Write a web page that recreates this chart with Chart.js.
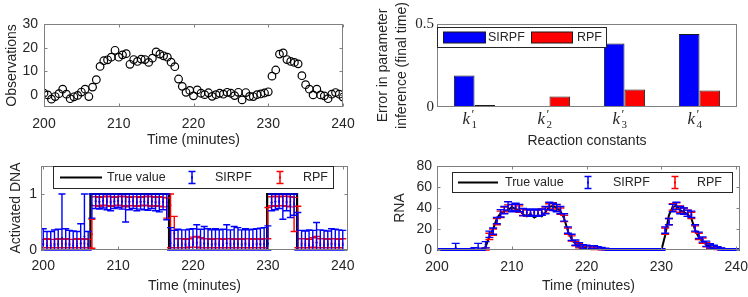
<!DOCTYPE html>
<html>
<head>
<meta charset="utf-8">
<script src="https://cdn.jsdelivr.net/npm/chart.js@4"></script>
<style>
html, body { margin: 0; padding: 0; background: #fff; }
body { width: 748px; height: 297px; position: relative; overflow: hidden; }
canvas { position: absolute; }
</style>
</head>
<body>
<canvas id="obsChart" width="374" height="150" style="left:0;top:0"></canvas>
<canvas id="errChart" width="374" height="150" style="left:374px;top:0"></canvas>
<canvas id="dnaChart" width="374" height="147" style="left:0;top:150px"></canvas>
<canvas id="rnaChart" width="374" height="147" style="left:374px;top:150px"></canvas>
<script>
// ---- data ----
const times = Array.from({length: 81}, (_, i) => 200 + i * 0.5);   // sampling grid, 0.5 min
const timeTicks = [200, 210, 220, 230, 240];

const observations = [
  0.8, 0.1, -1.7, -0.6, 0.6, 2.5, 0.4, -1.5, -0.7, -0.1,
  1.3, 2.5, -0.6, 3.4, 6.5, 12.1, 14.5, 14.9, 16, 18.9,
  16, 17, 17.5, 13, 15, 14.2, 15.2, 15, 13.8, 15.6,
  18.2, 17.3, 16.6, 16, 13.9, 12, 6.8, 3.7, 1.2, 2,
  -0.3, 2.2, 0.8, 0.2, 1.0, -0.5, 0.2, 0.8, 0.4, 1.2,
  0.8, -0.2, 1.2, -2, 1.1, -0.5, -0.6, 0.2, 0.5, 0.9,
  1.4, 8, 10.6, 17.3, 17.8, 15, 14.2, 13.8, 13.2, 8.2,
  4.4, 2.5, 0.1, 2.5, 0.1, -0.3, -1.5, 0.4, 1.1, 0.4,
  -0.8
];
const obsTicks = [0, 10, 20, 30];

// k'_1 .. k'_4 : base letter, subscript
const constants = [['k', '1'], ['k', '2'], ['k', '3'], ['k', '4']];
const sirpfParamError = [0.19, 0.004, 0.383, 0.44];
const rpfParamError = [0.012, 0.063, 0.105, 0.10];
const errTicks = [0, 0.5];

// activated DNA: true switching times and levels
const dnaTrueTimes = [200, 206.3, 206.3, 216.8, 216.8, 229.9, 229.9, 233.9, 233.9, 240];
const dnaTrueLevels = [0, 0, 1, 1, 0, 0, 1, 1, 0, 0];
const dnaTicks = [0, 1];

const dnaSirpfMean = [
  0.10, 0.08, 0.08, 0.09, 0.10, 0.22, 0.10, 0.09, 0.08, 0.08, 0.12, 0.24, 0.10,
  0.80, 0.87, 0.86, 0.88, 0.86, 0.85, 0.87, 0.88, 0.86, 0.78, 0.86, 0.87, 0.85, 0.86, 0.86, 0.85, 0.87, 0.85, 0.84, 0.86, 0.78,
  0.12, 0.09, 0.09, 0.09, 0.09, 0.09, 0.10, 0.12, 0.09, 0.11, 0.10, 0.09, 0.10, 0.09, 0.09, 0.12, 0.09, 0.11, 0.10, 0.09, 0.10, 0.09, 0.09, 0.10, 0.10, 0.10, 0.11,
  0.85, 0.86, 0.87, 0.78, 0.85, 0.80, 0.82,
  0.20, 0.09, 0.09, 0.09, 0.09, 0.13, 0.09, 0.09, 0.09, 0.10, 0.10, 0.09, 0.09
];
const dnaSirpfLow = [
  0, 0, 0, 0, 0, 0, 0, 0, 0, 0, 0, 0, 0,
  0.57, 0.74, 0.73, 0.75, 0.72, 0.70, 0.74, 0.76, 0.73, 0.50, 0.72, 0.74, 0.70, 0.73, 0.72, 0.71, 0.74, 0.70, 0.68, 0.72, 0.54,
  0, 0, 0, 0, 0, 0, 0, 0, 0, 0, 0, 0, 0, 0, 0, 0, 0, 0, 0, 0, 0, 0, 0, 0, 0, 0, 0,
  0.70, 0.72, 0.74, 0.55, 0.70, 0.58, 0.62,
  0, 0, 0, 0, 0, 0, 0, 0, 0, 0, 0, 0, 0
];
const dnaSirpfHigh = [
  0.38, 0.33, 0.33, 0.36, 0.37, 1.0, 0.38, 0.35, 0.34, 0.33, 0.47, 1.0, 0.33,
  1, 1, 1, 1, 1, 1, 1, 1, 1, 1, 1, 1, 1, 1, 1, 1, 1, 1, 1, 1, 1,
  0.40, 0.35, 0.37, 0.36, 0.36, 0.37, 0.38, 0.45, 0.37, 0.42, 0.38, 0.36, 0.38, 0.36, 0.37, 0.45, 0.36, 0.42, 0.40, 0.36, 0.38, 0.36, 0.37, 0.38, 0.39, 0.40, 0.43,
  1, 1, 1, 1, 1, 1, 1,
  0.67, 0.35, 0.34, 0.36, 0.35, 0.49, 0.36, 0.35, 0.34, 0.38, 0.37, 0.36, 0.35
];
const dnaRpfMean = [
  0.11, 0.12, 0.11, 0.11, 0.12, 0.11, 0.12, 0.11, 0.11, 0.12, 0.11, 0.12, 0.11,
  0.28, 0.87, 0.86, 0.87, 0.88, 0.87, 0.86, 0.87, 0.88, 0.87, 0.86, 0.87, 0.87, 0.86, 0.87, 0.88, 0.87, 0.86, 0.87, 0.86, 0.85,
  0.80, 0.30, 0.12, 0.12, 0.11, 0.12, 0.14, 0.14, 0.13, 0.12, 0.12, 0.11, 0.12, 0.12, 0.11, 0.12, 0.12, 0.11, 0.12, 0.11, 0.12, 0.12, 0.11, 0.12, 0.11, 0.12, 0.12,
  0.85, 0.87, 0.86, 0.87, 0.87, 0.86, 0.85,
  0.55, 0.12, 0.12, 0.11, 0.13, 0.14, 0.12, 0.12, 0.11, 0.12, 0.12, 0.11, 0.12
];
const dnaRpfLow = [
  0.04, 0.04, 0.04, 0.04, 0.04, 0.04, 0.04, 0.04, 0.04, 0.04, 0.04, 0.04, 0.04,
  0.03, 0.79, 0.78, 0.80, 0.79, 0.78, 0.79, 0.80, 0.79, 0.77, 0.79, 0.79, 0.78, 0.79, 0.80, 0.79, 0.78, 0.79, 0.78, 0.77,
  0.57, 0.04, 0.04, 0.04, 0.04, 0.04, 0.05, 0.05, 0.05, 0.04, 0.04, 0.04, 0.04, 0.04, 0.04, 0.04, 0.04, 0.04, 0.04, 0.04, 0.04, 0.04, 0.04, 0.04, 0.04, 0.04, 0.04,
  0.76, 0.79, 0.78, 0.79, 0.79, 0.78, 0.77,
  0.33, 0.04, 0.04, 0.04, 0.04, 0.05, 0.04, 0.04, 0.04, 0.04, 0.04, 0.04, 0.04
];
const dnaRpfHigh = [
  0.19, 0.20, 0.19, 0.19, 0.20, 0.19, 0.20, 0.19, 0.19, 0.20, 0.19, 0.20, 0.19,
  0.55, 0.95, 0.94, 0.95, 0.96, 0.95, 0.94, 0.95, 0.96, 0.95, 0.94, 0.95, 0.95, 0.94, 0.95, 0.96, 0.95, 0.94, 0.95, 0.94, 0.93,
  1.0, 0.60, 0.20, 0.20, 0.19, 0.20, 0.23, 0.24, 0.22, 0.20, 0.20, 0.19, 0.20, 0.20, 0.19, 0.20, 0.20, 0.19, 0.20, 0.19, 0.20, 0.20, 0.19, 0.20, 0.19, 0.20, 0.20,
  0.95, 0.96, 0.95, 0.96, 0.96, 0.95, 0.94,
  0.78, 0.20, 0.20, 0.19, 0.22, 0.24, 0.20, 0.20, 0.19, 0.20, 0.20, 0.19, 0.20
];

const rnaTrue = [
  0, 0, 0, 0, 0, 0, 0, 0, 0, 0, 0, 0, 0,
  3, 13, 20, 30, 35, 37, 38, 41, 39, 38, 34, 32, 34, 31, 33, 32, 36, 41, 42, 40, 37,
  30, 18, 10, 6, 3, 2, 2, 1, 1, 1, 1,
  0, 0, 0, 0, 0, 0, 0, 0, 0, 0, 0, 0, 0, 0, 0, 0,
  14, 33, 41, 42, 38, 36, 34, 30, 19, 12, 8, 5, 3, 2, 1, 1,
  0, 0, 0, 0
];
const rnaSirpfMean = [
  0.5, 0.5, 0.5, 0.5, 0.5, 2.5, 0.5, 0.5, 0.5, 0.5, 1, 2.5, 0.8,
  5, 15, 18, 28, 35, 38, 42, 40, 41, 40, 36, 36, 35, 36, 35, 36, 38, 42, 41, 40, 38,
  31, 19, 12, 7, 5, 3, 3, 2.5, 2.5, 2, 1.5,
  1, 0.5, 0.5, 0.5, 0.5, 0.5, 0.5, 0.5, 0.5, 0.5, 0.5, 0.5, 0.5, 0.5, 0.5, 0.5,
  19, 27, 40, 42, 38, 37, 35, 34, 21, 14, 10, 6, 4, 3, 2, 1,
  0.5, 0.5, 0.5, 0.5
];
const rnaSirpfSpread = [
  0.7, 0.7, 0.7, 0.7, 0.7, 3.8, 0.7, 0.7, 0.7, 0.7, 1.2, 3.8, 1,
  3, 3, 3, 3, 3.5, 3.5, 4, 3.5, 3.5, 3.5, 3.5, 3, 3, 3, 3, 3, 3.5, 3.5, 3.5, 3.5, 3.5,
  3.5, 3, 3, 2.5, 2, 2, 1.5, 1.5, 1.5, 1.2, 1,
  0.8, 0.8, 0.8, 0.8, 0.8, 0.8, 0.8, 0.8, 0.8, 0.8, 0.8, 0.8, 0.8, 0.8, 0.8, 0.8,
  3, 3, 3.5, 3.5, 3.5, 3, 3, 3, 3, 3, 2.5, 2.5, 2, 1.5, 1.2, 1,
  0.7, 0.7, 0.7, 0.7
];
const rnaRpfMean = [
  0.2, 0.2, 0.2, 0.2, 0.2, 0.2, 0.2, 0.2, 0.2, 0.2, 0.2, 0.2, 0.2,
  1, 13, 17, 27, 34, 38, 40, 40, 41, 39, 36, 35, 35, 35, 35, 36, 38, 41, 42, 40, 37,
  30, 18, 11, 6, 4, 3, 2, 2, 1.5, 1.5, 1,
  0.5, 0.5, 0.5, 0.5, 0.5, 0.5, 0.5, 0.5, 0.5, 0.5, 0.5, 0.5, 0.5, 0.5, 0.5, 0.5,
  18, 27, 41, 42, 39, 37, 35, 33, 20, 13, 9, 5, 3.5, 2.5, 1.5, 1,
  0.3, 0.3, 0.3, 0.3
];
const rnaRpfSpread = [
  0.5, 0.5, 0.5, 0.5, 0.5, 0.5, 0.5, 0.5, 0.5, 0.5, 0.5, 0.5, 0.5,
  1, 3, 3, 3, 3, 3, 3, 3, 3, 3, 3, 3, 3, 3, 3, 3, 3, 3, 3, 3, 3,
  3, 3, 2.5, 2, 2, 1.5, 1.2, 1.2, 1, 1, 0.8,
  0.6, 0.6, 0.6, 0.6, 0.6, 0.6, 0.6, 0.6, 0.6, 0.6, 0.6, 0.6, 0.6, 0.6, 0.6, 0.6,
  3, 3, 3, 3, 3, 3, 3, 3, 3, 3, 2.5, 2, 2, 1.5, 1, 0.8,
  0.5, 0.5, 0.5, 0.5
];
const rnaTicks = [0, 20, 40, 60, 80];

// ---- styling ----
const SANS = "'Liberation Sans', Arial, Helvetica, sans-serif";
const SERIF = "'Liberation Serif', 'DejaVu Serif', serif";
const INK = '#262626';
const AXIS_GRAY = '#808080';
const BLUE = '#0000ff';
const RED = '#ff0000';

Chart.defaults.font.family = SANS;
Chart.defaults.font.size = 14;
Chart.defaults.color = INK;
Chart.defaults.animation = false;
Chart.defaults.plugins.legend.display = false;
Chart.defaults.plugins.tooltip.enabled = false;

const pts = (xs, ys) => xs.map((x, i) => ({x, y: ys[i]}));
const noGrid = {display: false, drawTicks: false};

// vertical error bars with caps, drawn through the chart's own scales
const errorBars = {
  id: 'errorBars',
  afterDatasetDraw(chart, args) {
    const ds = chart.data.datasets[args.index];
    if (!ds.lo) return;
    const {ctx, chartArea: a, scales: {x, y}} = chart;
    ctx.save();
    ctx.beginPath();
    ctx.rect(a.left, a.top - 1, a.right - a.left, a.bottom - a.top + 2);
    ctx.clip();
    ctx.strokeStyle = ds.borderColor;
    ctx.lineWidth = ds.errWidth;
    const c = ds.cap;
    ctx.beginPath();
    ds.data.forEach((p, i) => {
      const px = x.getPixelForValue(p.x);
      const y1 = y.getPixelForValue(ds.lo[i]);
      const y2 = y.getPixelForValue(ds.hi[i]);
      ctx.moveTo(px, y1); ctx.lineTo(px, y2);
      ctx.moveTo(px - c, y1); ctx.lineTo(px + c, y1);
      ctx.moveTo(px - c, y2); ctx.lineTo(px + c, y2);
    });
    ctx.stroke();
    ctx.restore();
  }
};

// matlab style box with inward ticks, a framed legend, and k' tick labels
const frame = {
  id: 'frame',
  afterDraw(chart, args, o) {
    const {ctx, chartArea: a, scales} = chart;
    const L = Math.round(a.left) + 0.5, R = Math.round(a.right) - 0.5;
    const T = Math.round(a.top) + 0.5, B = Math.round(a.bottom) - 0.5;
    ctx.save();
    ctx.strokeStyle = AXIS_GRAY;
    ctx.lineWidth = 1;
    ctx.beginPath();
    (o.xTicks || []).forEach(v => {
      const px = Math.round(scales.x.getPixelForValue(v)) + 0.5;
      ctx.moveTo(px, B); ctx.lineTo(px, B - 3);
      ctx.moveTo(px, T); ctx.lineTo(px, T + 3);
    });
    (o.yTicks || []).forEach(v => {
      const py = Math.round(scales.y.getPixelForValue(v)) + 0.5;
      ctx.moveTo(L, py); ctx.lineTo(L + 3, py);
      ctx.moveTo(R, py); ctx.lineTo(R - 3, py);
    });
    ctx.stroke();
    ctx.strokeRect(L, T, R - L, B - T);

    if (o.mathLabels) {
      ctx.fillStyle = INK;
      ctx.textBaseline = 'alphabetic';
      o.mathLabels.forEach(([base, sub], i) => {
        const cx = scales.x.getPixelForValue(i) - 6;
        ctx.textAlign = 'left';
        ctx.font = 'italic 17px ' + SERIF;
        ctx.fillText(base, cx - 6, B + 17);
        ctx.font = '13px ' + SERIF;
        ctx.fillText('\u2032', cx + 3, B + 11);
        ctx.font = '11px ' + SERIF;
        ctx.fillText(sub, cx + 3, B + 21);
      });
    }

    const lg = o.legend;
    if (lg) {
      const [bx, by, bw, bh] = lg.box;
      ctx.fillStyle = '#fff';
      ctx.fillRect(bx, by, bw, bh);
      ctx.strokeStyle = INK;
      ctx.strokeRect(bx + 0.5, by + 0.5, bw, bh);
      const cy = by + bh / 2 + 0.5;
      ctx.font = '12.5px ' + SANS;
      ctx.textAlign = 'left';
      ctx.textBaseline = 'middle';
      lg.items.forEach(it => {
        if (it.kind === 'rect') {
          ctx.fillStyle = it.color;
          ctx.fillRect(it.x, cy - 5.5, it.w, 11);
          ctx.strokeStyle = '#1a1a1a';
          ctx.strokeRect(it.x + 0.5, cy - 5.5, it.w, 11);
        } else if (it.kind === 'line') {
          ctx.strokeStyle = it.color;
          ctx.lineWidth = 2;
          ctx.beginPath(); ctx.moveTo(it.x, cy); ctx.lineTo(it.x + it.w, cy); ctx.stroke();
        } else {
          ctx.strokeStyle = it.color;
          ctx.lineWidth = 1.5;
          ctx.beginPath();
          ctx.moveTo(it.x, cy - 6); ctx.lineTo(it.x, cy + 6);
          ctx.moveTo(it.x - 3.5, cy - 6); ctx.lineTo(it.x + 3.5, cy - 6);
          ctx.moveTo(it.x - 3.5, cy + 6); ctx.lineTo(it.x + 3.5, cy + 6);
          ctx.stroke();
          ctx.fillStyle = it.color;
          ctx.fillRect(it.x - 1, cy - 1, 2, 2);
        }
        ctx.fillStyle = INK;
        ctx.fillText(it.label, it.tx, cy);
      });
    }
    ctx.restore();
  }
};
Chart.register(errorBars, frame);

const fixY = (w) => (s) => { s.width = w; s.paddingTop = 0; s.paddingBottom = 0; };
const fixX = (h) => (s) => { s.height = h; s.paddingLeft = 0; s.paddingRight = 0; };
const setTicks = (vals) => (s) => { s.ticks = vals.map(v => ({value: v})); };

// ---- top left: observations ----
new Chart(document.getElementById('obsChart'), {
  type: 'scatter',
  data: {
    datasets: [{
      data: pts(times, observations),
      pointRadius: 3.8,
      pointBorderWidth: 1.2,
      pointBorderColor: '#000',
      pointBackgroundColor: 'rgba(0,0,0,0)'
    }]
  },
  options: {
    responsive: false,
    layout: {padding: {top: 24, right: 31, left: 0, bottom: 0}},
    scales: {
      x: {
        min: 200, max: 240,
        grid: noGrid, border: {display: false},
        afterBuildTicks: setTicks(timeTicks), afterFit: fixX(43),
        ticks: {padding: 9, maxRotation: 0},
        title: {display: true, text: 'Time (minutes)', padding: {top: 0, bottom: 1}}
      },
      y: {
        min: -5, max: 30,
        grid: noGrid, border: {display: false},
        afterBuildTicks: setTicks(obsTicks), afterFit: fixY(44),
        ticks: {padding: 6},
        title: {display: true, text: 'Observations', padding: {top: 4, bottom: 0}}
      }
    },
    plugins: {frame: {xTicks: timeTicks, yTicks: obsTicks}}
  }
});

// ---- top right: parameter inference error ----
new Chart(document.getElementById('errChart'), {
  type: 'bar',
  data: {
    labels: constants.map(c => c.join('')),
    datasets: [
      {data: sirpfParamError, backgroundColor: BLUE, borderColor: '#1a1a1a', borderWidth: 1,
       categoryPercentage: 0.55, barPercentage: 1},
      {data: rpfParamError, backgroundColor: RED, borderColor: '#1a1a1a', borderWidth: 1,
       categoryPercentage: 0.55, barPercentage: 1}
    ]
  },
  options: {
    responsive: false,
    layout: {padding: {top: 24, right: 11, left: 0, bottom: 0}},
    scales: {
      x: {
        grid: noGrid, border: {display: false},
        afterFit: fixX(43),
        ticks: {display: false},
        title: {display: true, text: 'Reaction constants', padding: {top: 0, bottom: 0}}
      },
      y: {
        min: 0, max: 0.5,
        grid: noGrid, border: {display: false},
        afterBuildTicks: setTicks(errTicks), afterFit: fixY(63),
        ticks: {padding: 3, font: {family: SERIF, size: 15}},
        title: {display: true, text: ['Error in parameter', 'inference (final time)'],
                font: {lineHeight: 1.36}, padding: {top: 0, bottom: 0}}
      }
    },
    plugins: {
      frame: {
        mathLabels: constants,
        legend: {
          box: [63, 27, 169, 20],
          items: [
            {kind: 'rect', color: BLUE, x: 69, w: 42, label: 'SIRPF', tx: 114},
            {kind: 'rect', color: RED, x: 157, w: 41, label: 'RPF', tx: 203}
          ]
        }
      }
    }
  }
});

// ---- bottom left: activated DNA ----
new Chart(document.getElementById('dnaChart'), {
  type: 'scatter',
  data: {
    datasets: [
      {data: pts(dnaTrueTimes, dnaTrueLevels), showLine: true, pointRadius: 0,
       borderColor: '#000', borderWidth: 2.2, order: 3},
      {data: pts(times, dnaRpfMean), lo: dnaRpfLow, hi: dnaRpfHigh, cap: 3.5, errWidth: 1.4,
       borderColor: RED, backgroundColor: RED, pointRadius: 1, pointBorderWidth: 0, order: 2},
      {data: pts(times, dnaSirpfMean), lo: dnaSirpfLow, hi: dnaSirpfHigh, cap: 3.5, errWidth: 1.4,
       borderColor: BLUE, backgroundColor: BLUE, pointRadius: 1, pointBorderWidth: 0, order: 1}
    ]
  },
  options: {
    responsive: false,
    layout: {padding: {top: 16, right: 26, left: 0, bottom: 0}},
    scales: {
      x: {
        type: 'linear', min: 199.7, max: 240.7,
        grid: noGrid, border: {display: false},
        afterBuildTicks: setTicks(timeTicks), afterFit: fixX(47),
        ticks: {padding: 8, maxRotation: 0},
        title: {display: true, text: 'Time (minutes)', padding: {top: 0, bottom: 2}}
      },
      y: {
        min: 0, max: 1.5,
        grid: noGrid, border: {display: false},
        afterBuildTicks: setTicks(dnaTicks), afterFit: fixY(41),
        ticks: {padding: 4},
        title: {display: true, text: 'Activated DNA', padding: {top: 8, bottom: 0}}
      }
    },
    plugins: {
      frame: {
        xTicks: timeTicks, yTicks: dnaTicks,
        legend: {
          box: [53, 16, 280, 22],
          items: [
            {kind: 'line', color: '#000', x: 60, w: 42, label: 'True value', tx: 107},
            {kind: 'err', color: BLUE, x: 192, label: 'SIRPF', tx: 215},
            {kind: 'err', color: RED, x: 280, label: 'RPF', tx: 303}
          ]
        }
      }
    }
  }
});

// ---- bottom right: RNA ----
new Chart(document.getElementById('rnaChart'), {
  type: 'scatter',
  data: {
    datasets: [
      {data: pts(times, rnaTrue), showLine: true, pointRadius: 0,
       borderColor: '#000', borderWidth: 2, order: 3},
      {data: pts(times, rnaRpfMean),
       lo: rnaRpfMean.map((m, i) => m - rnaRpfSpread[i]), hi: rnaRpfMean.map((m, i) => m + rnaRpfSpread[i]),
       cap: 4, errWidth: 1.4, borderColor: RED, backgroundColor: RED, pointRadius: 1, pointBorderWidth: 0, order: 2},
      {data: pts(times, rnaSirpfMean),
       lo: rnaSirpfMean.map((m, i) => m - rnaSirpfSpread[i]), hi: rnaSirpfMean.map((m, i) => m + rnaSirpfSpread[i]),
       cap: 4, errWidth: 1.4, borderColor: BLUE, backgroundColor: BLUE, pointRadius: 1, pointBorderWidth: 0, order: 1}
    ]
  },
  options: {
    responsive: false,
    layout: {padding: {top: 16, right: 8, left: 0, bottom: 0}},
    scales: {
      x: {
        type: 'linear', min: 200, max: 240.5,
        grid: noGrid, border: {display: false},
        afterBuildTicks: setTicks(timeTicks), afterFit: fixX(47),
        ticks: {padding: 9, maxRotation: 0},
        title: {display: true, text: 'Time (minutes)', padding: {top: 0, bottom: 2}}
      },
      y: {
        min: 0, max: 80,
        grid: noGrid, border: {display: false},
        afterBuildTicks: setTicks(rnaTicks), afterFit: fixY(63),
        ticks: {padding: 5},
        title: {display: true, text: 'RNA', padding: {top: 18, bottom: 0}}
      }
    },
    plugins: {
      frame: {
        xTicks: timeTicks, yTicks: rnaTicks,
        legend: {
          box: [78, 22, 280, 20],
          items: [
            {kind: 'line', color: '#000', x: 84, w: 40, label: 'True value', tx: 131},
            {kind: 'err', color: BLUE, x: 214, label: 'SIRPF', tx: 239},
            {kind: 'err', color: RED, x: 301, label: 'RPF', tx: 323}
          ]
        }
      }
    }
  }
});
</script>
</body>
</html>
